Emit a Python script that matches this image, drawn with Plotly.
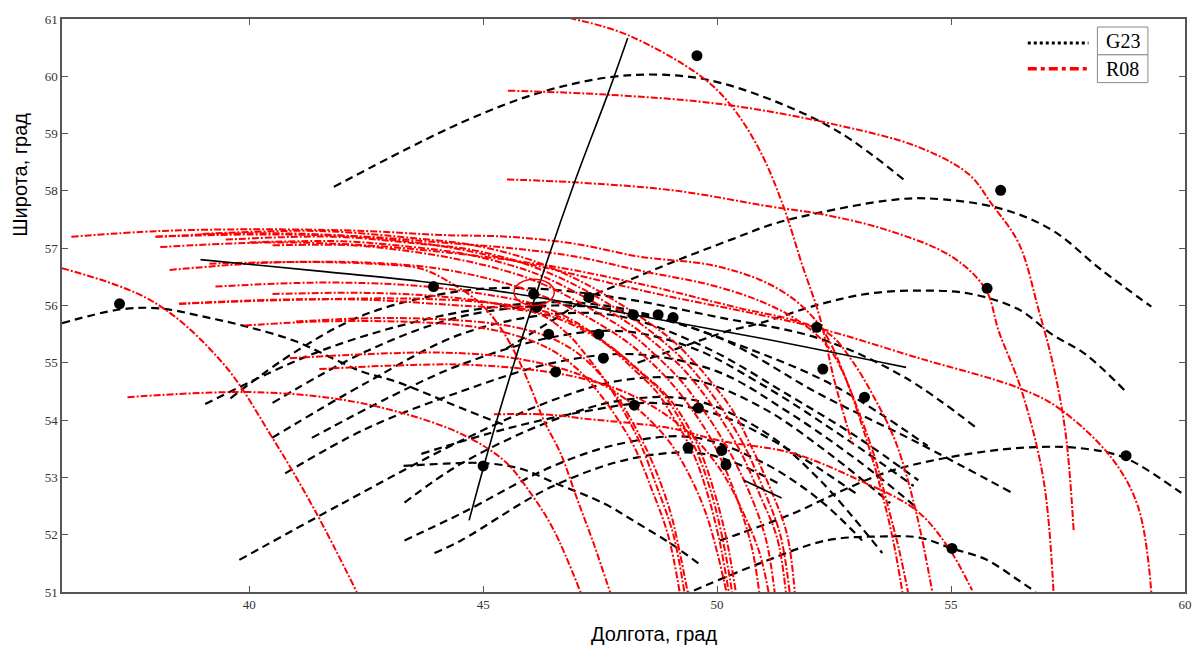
import plotly.graph_objects as go

# ---------------- G23 arcs (lon, lat) ----------------
g01 = [(41.81, 58.07), (44.53, 59.19), (46.23, 59.72), (47.66, 59.98), (48.72, 60.03), (49.79, 59.94), (51.19, 59.58), (52.62, 59.02), (54.06, 58.15)]
g02 = [(45.5, 55.25), (46.5, 55.75), (47.26, 56.14), (47.94, 56.38), (49.06, 56.76), (50.3, 57.15), (51.19, 57.42), (52.19, 57.62), (53.62, 57.83), (54.47, 57.87), (56.02, 57.70), (57.15, 57.32), (58.2, 56.63), (59.28, 55.98)]
g03 = [(48.3, 55.0), (49.5, 55.35), (50.21, 55.55), (50.91, 55.69), (52.19, 56.02), (53.26, 56.21), (54.32, 56.26), (55.38, 56.21), (56.45, 55.93), (57.15, 55.50), (57.87, 55.15), (58.72, 54.51)]
g04 = [(50.06, 51.9), (50.49, 52.02), (51.62, 52.37), (52.68, 52.77), (53.74, 53.12), (55.38, 53.41), (56.81, 53.53), (57.87, 53.50), (58.72, 53.34), (59.85, 52.77), (60.3, 52.5)]
g05 = [(49.0, 50.85), (49.43, 51.0), (50.91, 51.5), (52.34, 51.9), (53.6, 51.97), (54.32, 51.95), (55.02, 51.76), (55.74, 51.57), (56.45, 51.2), (56.81, 51.0)]
g06 = [(36.0, 55.69), (37.23, 55.93), (38.09, 55.95), (39.0, 55.81), (39.91, 55.64), (40.98, 55.38), (41.70, 55.11), (42.40, 54.85), (43.11, 54.68), (43.83, 54.45), (44.53, 54.21), (45.5, 53.9)]
g07 = [(43.3, 53.2), (44.2, 53.24), (45.0, 53.25), (45.81, 53.15), (46.51, 52.91), (47.57, 52.55), (48.3, 52.2), (49.0, 51.85), (49.6, 51.5)]
g08 = [(39.6, 54.38), (41.0, 55.2), (42.5, 55.85), (44.5, 56.25), (46.0, 56.3), (48.0, 56.12), (50.0, 55.8), (52.2, 55.42), (54.0, 54.75), (55.55, 53.86)]
g09 = [(40.5, 54.3), (42.5, 55.2), (44.5, 55.8), (46.5, 56.0), (48.0, 55.9), (50.0, 55.45), (52.2, 54.45), (54.3, 53.6), (56.28, 52.74)]
g10 = [(40.49, 53.69), (42.5, 54.65), (44.53, 55.5), (46.5, 55.85), (48.0, 55.8), (49.8, 55.25), (51.5, 54.45), (53.0, 53.7), (54.3, 52.95)]
g11 = [(41.34, 53.69), (43.0, 54.4), (44.53, 54.97), (46.5, 55.45), (48.0, 55.55), (49.5, 55.25), (51.0, 54.6), (52.8, 53.65), (54.2, 52.85)]
g12 = [(40.77, 53.07), (42.5, 53.85), (44.53, 54.5), (46.5, 55.0), (48.2, 55.15), (50.0, 54.85), (51.5, 54.15), (53.0, 53.3), (54.3, 52.45)]
g13 = [(39.79, 51.56), (42.0, 52.55), (44.53, 53.64), (46.5, 54.35), (48.0, 54.7), (49.5, 54.7), (51.0, 54.2), (52.5, 53.35), (53.7, 52.55)]
g14 = [(43.32, 52.56), (44.53, 53.24), (46.5, 54.0), (48.0, 54.35), (49.5, 54.35), (51.0, 53.8), (52.2, 52.95), (53.53, 51.68)]
g15 = [(43.32, 51.9), (44.53, 52.37), (46.5, 53.2), (48.0, 53.6), (49.5, 53.7), (51.0, 53.25), (52.2, 52.6), (53.1, 51.9)]
g16 = [(43.96, 51.68), (44.53, 51.9), (46.5, 52.85), (48.3, 53.35), (49.8, 53.4), (51.3, 52.9)]
g17 = [(43.68, 53.41), (45.5, 53.85), (47.23, 54.16), (48.6, 54.3), (50.0, 54.1), (51.5, 53.5), (53.0, 52.7)]
g18 = [(39.06, 54.28), (41.5, 55.2), (43.83, 55.77), (45.5, 56.0), (47.0, 56.05), (48.5, 55.85), (50.5, 55.3), (52.5, 54.6), (54.5, 53.55)]

# ---------------- R08 arcs (lon, lat) ----------------
r01 = [(36.0, 56.65), (37.94, 56.07), (39.43, 55.0), (40.49, 53.7), (41.40, 52.43), (42.30, 51.0)]
r02 = [(37.40, 54.40), (39.91, 54.49), (41.70, 54.39), (43.11, 54.16), (44.53, 53.76), (45.45, 53.29), (46.02, 52.72), (46.51, 52.08), (47.09, 50.98)]
r03 = [(46.3, 61.1), (46.94, 61.0), (48.09, 60.72), (49.64, 60.01), (50.28, 59.51), (50.91, 58.71), (51.40, 57.77), (51.83, 56.68), (52.19, 55.81), (52.51, 54.68), (52.89, 53.59)]
r04 = [(45.53, 59.75), (47.66, 59.68), (50.13, 59.51), (52.62, 59.14), (54.32, 58.76), (55.38, 58.29), (55.87, 57.77), (56.45, 57.08), (56.87, 55.93), (57.2, 54.9), (57.45, 53.76), (57.62, 52.08)]
r05 = [(45.51, 58.2), (46.94, 58.15), (49.06, 58.01), (51.19, 57.72), (52.19, 57.6), (53.62, 57.32), (55.02, 56.85), (55.74, 56.28), (56.02, 55.55), (56.51, 54.51), (56.98, 52.94), (57.19, 51.0)]
r06 = [(38.0, 57.2), (40.0, 57.26), (42.0, 57.22), (44.0, 57.05), (46.0, 56.72), (48.79, 56.19), (50.55, 55.9), (52.19, 55.6), (54.32, 55.08), (56.45, 54.56), (57.3, 54.21), (58.43, 53.34), (59.0, 52.48), (59.28, 51.0)]
r07 = [(45.23, 54.1), (46.30, 54.1), (47.23, 54.02), (49.0, 53.86), (50.06, 53.64), (51.62, 53.42), (53.04, 52.95), (54.25, 52.43), (54.94, 51.78), (55.45, 51.03)]
r08 = [(36.2, 57.2), (38.1, 57.3), (40.3, 57.33), (42.5, 57.3), (44.11, 57.23), (45.53, 57.2), (46.94, 57.08), (48.36, 56.85), (49.85, 56.71), (50.91, 56.45), (51.62, 56.12), (52.13, 55.72), (52.40, 55.38), (52.77, 54.68), (53.10, 53.9), (53.45, 52.95), (53.75, 51.95), (53.96, 51.0)]
r09 = [(38.0, 57.2), (40.3, 57.24), (42.5, 57.2), (44.1, 57.1), (45.6, 57.0), (47.0, 56.85), (48.4, 56.6), (49.9, 56.35), (51.0, 56.05), (51.8, 55.7), (52.35, 55.3), (52.65, 54.9), (53.0, 54.2), (53.35, 53.4), (53.65, 52.5), (53.9, 51.7), (54.08, 51.0)]
r10 = [(38.1, 57.02), (40.5, 57.1), (42.5, 57.05), (44.5, 56.9), (46.5, 56.68), (48.5, 56.35), (50.5, 55.95), (51.6, 55.75), (52.4, 55.5), (52.89, 55.03), (53.4, 54.33), (53.83, 53.59), (54.26, 52.37), (54.6, 51.0)]
r11 = [(39.0, 57.25), (41.5, 57.3), (43.7, 57.16), (44.74, 57.06), (45.81, 56.85), (46.51, 56.64), (47.23, 56.36), (47.94, 56.02), (48.51, 55.72), (49.06, 55.38), (49.49, 55.03), (49.91, 54.63), (50.34, 54.16), (50.70, 53.59), (51.13, 52.82), (51.49, 52.02), (51.66, 51.0)]
r12 = [(39.5, 57.15), (41.8, 57.2), (43.6, 57.08), (44.7, 56.98), (45.7, 56.78), (46.4, 56.57), (47.1, 56.3), (47.8, 55.97), (48.4, 55.66), (48.95, 55.3), (49.4, 54.95), (49.8, 54.55), (50.2, 54.08), (50.6, 53.52), (51.0, 52.78), (51.35, 52.0), (51.55, 51.0)]
r13 = [(40.0, 57.1), (42.0, 57.12), (43.5, 57.02), (44.6, 56.9), (45.6, 56.7), (46.3, 56.5), (47.0, 56.22), (47.7, 55.9), (48.3, 55.58), (48.85, 55.22), (49.3, 54.87), (49.7, 54.47), (50.1, 54.0), (50.5, 53.45), (50.9, 52.72), (51.28, 51.95), (51.47, 51.0)]
r14 = [(40.5, 57.05), (42.2, 57.05), (43.4, 56.95), (44.5, 56.8), (45.5, 56.6), (46.2, 56.4), (46.9, 56.12), (47.6, 55.8), (48.2, 55.48), (48.7, 55.12), (49.15, 54.76), (49.55, 54.35), (49.95, 53.88), (50.35, 53.32), (50.75, 52.62), (51.05, 51.9), (51.23, 51.0)]
r15 = [(38.3, 56.62), (40.5, 56.75), (42.5, 56.75), (44.0, 56.65), (45.2, 56.45), (46.0, 56.25), (46.8, 55.98), (47.5, 55.67), (48.1, 55.35), (48.6, 55.0), (49.05, 54.62), (49.45, 54.2), (49.85, 53.7), (50.2, 53.1), (50.5, 52.45), (50.75, 51.75), (50.9, 51.0)]
r16 = [(39.28, 56.33), (41.5, 56.4), (43.5, 56.35), (45.0, 56.2), (46.2, 56.0), (47.0, 55.7), (47.6, 55.35), (48.2, 54.9), (48.7, 54.5), (49.1, 54.0), (49.5, 53.4), (49.8, 52.7), (50.05, 51.9), (50.25, 51.0)]
r17 = [(38.5, 56.03), (41.0, 56.1), (43.5, 56.12), (45.1, 56.05), (46.3, 55.9), (47.1, 55.62), (47.7, 55.3), (48.3, 54.88), (48.8, 54.5), (49.2, 54.02), (49.58, 53.42), (49.88, 52.72), (50.12, 51.92), (50.32, 51.0)]
r18 = [(40.5, 56.2), (42.5, 56.22), (44.2, 56.15), (45.5, 56.0), (46.5, 55.8), (47.25, 55.52), (47.85, 55.2), (48.4, 54.82), (48.9, 54.45), (49.3, 54.0), (49.66, 53.42), (49.95, 52.72), (50.2, 51.93), (50.4, 51.0)]
r19 = [(40.87, 55.08), (42.5, 55.15), (44.0, 55.18), (45.3, 55.12), (46.3, 54.98), (47.2, 54.75), (47.9, 54.45), (48.5, 54.05), (49.0, 53.6), (49.4, 53.05), (49.75, 52.4), (50.0, 51.7), (50.2, 51.0)]
r20 = [(41.5, 54.89), (43.0, 54.95), (44.5, 54.97), (45.8, 54.9), (47.0, 54.75), (48.0, 54.5), (48.8, 54.15), (49.5, 53.7), (50.1, 53.1), (50.55, 52.4), (50.9, 51.7), (51.1, 51.0)]
r21 = [(38.5, 56.03), (40.5, 56.1), (42.5, 56.1), (44.5, 56.0), (45.5, 55.95), (46.23, 55.84), (46.81, 55.5), (47.3, 55.03), (47.66, 54.63), (48.0, 54.16), (48.36, 53.59), (48.72, 52.82), (49.06, 52.02), (49.3, 51.0)]
r22 = [(39.9, 55.65), (41.5, 55.72), (43.2, 55.72), (44.6, 55.65), (45.6, 55.5), (46.4, 55.25), (47.0, 54.9), (47.45, 54.5), (47.85, 54.05), (48.25, 53.5), (48.6, 52.8), (48.95, 52.0), (49.2, 51.0)]
r23 = [(41.0, 55.72), (42.7, 55.78), (44.3, 55.75), (45.5, 55.65), (46.4, 55.45), (47.05, 55.15), (47.55, 54.75), (47.95, 54.3), (48.3, 53.8), (48.65, 53.2), (49.0, 52.4), (49.2, 51.7), (49.37, 51.0)]
r24 = [(39.15, 56.73), (41.13, 56.76), (42.8, 56.72), (43.68, 56.64), (44.38, 56.36), (44.96, 56.02), (45.38, 55.6), (45.74, 55.08), (46.02, 54.56), (46.3, 53.99), (46.66, 53.41), (47.02, 52.6), (47.36, 51.85), (47.72, 50.98)]

# ---------------- epicentre-like markers ----------------
dots_lon = [37.23, 43.94, 45.0, 49.57, 56.06, 55.77, 58.74, 55.02, 46.08, 46.15, 47.26, 48.21, 48.74, 49.06,
            46.4, 47.47, 47.57, 46.55, 48.23, 49.6, 52.13, 52.26, 53.15, 49.38, 50.19, 50.1]
dots_lat = [56.03, 56.33, 53.2, 60.36, 58.01, 56.3, 53.38, 51.76, 56.2, 55.97, 56.14, 55.84, 55.84, 55.79,
            55.5, 55.5, 55.08, 54.84, 54.26, 54.21, 55.62, 54.89, 54.40, 53.52, 53.22, 53.47]

# solid profile lines
steep_line = [(44.70, 52.25), (45.32, 54.07), (46.13, 56.19), (46.94, 58.12), (47.66, 59.68), (48.09, 60.67)]
shallow_line = [(38.96, 56.80), (41.5, 56.6), (43.68, 56.42), (45.66, 56.21), (48.21, 55.84), (51.0, 55.42), (54.04, 54.92)]
short_line = [(50.57, 52.95), (51.38, 52.64)]

# red circle (ellipse in degrees)
circle_lon, circle_lat = 46.09, 56.23
circle_r_lon, circle_r_lat = 0.43, 0.23

x_range = [36, 60]
y_range = [51, 61]
x_ticks = [40, 45, 50, 55, 60]
y_ticks = [51, 52, 53, 54, 55, 56, 57, 58, 59, 60, 61]

legend_labels = ["G23", "R08"]
x_title = "Долгота, град"
y_title = "Широта, град"

G23_CURVES = [g01, g02, g03, g04, g05, g06, g07, g08, g09, g10, g11, g12, g13, g14, g15, g16, g17, g18]
R08_CURVES = [r01, r02, r03, r04, r05, r06, r07, r08, r09, r10, r11, r12, r13, r14, r15, r16, r17, r18,
              r19, r20, r21, r22, r23, r24]

fig = go.Figure()


def add_curve(pts, color, dash, width, shape="spline"):
    fig.add_trace(go.Scatter(
        x=[p[0] for p in pts], y=[p[1] for p in pts], mode="lines",
        line=dict(color=color, dash=dash, width=width, shape=shape, smoothing=1.0),
        showlegend=False, hoverinfo="skip"))


for c in G23_CURVES:
    add_curve(c, "black", "8px,5px", 2.2)
for c in R08_CURVES:
    add_curve(c, "#ff0000", "7px,2px,2px,2px", 2.0)

add_curve(steep_line, "black", "solid", 1.6)
add_curve(shallow_line, "black", "solid", 1.6)
add_curve(short_line, "black", "solid", 1.6, shape="linear")

fig.add_trace(go.Scatter(x=dots_lon, y=dots_lat, mode="markers",
                         marker=dict(color="black", size=11),
                         showlegend=False, hoverinfo="skip"))

fig.add_shape(type="circle", xref="x", yref="y",
              x0=circle_lon - circle_r_lon, x1=circle_lon + circle_r_lon,
              y0=circle_lat - circle_r_lat, y1=circle_lat + circle_r_lat,
              line=dict(color="#ff0000", width=1.5))

# manual legend
leg_x0, leg_x1 = 0.860, 0.914
box_x0, box_x1 = 0.922, 0.967
fig.add_shape(type="line", xref="paper", yref="paper", x0=leg_x0, x1=leg_x1, y0=0.958, y1=0.958,
              line=dict(color="black", width=3, dash="3px,3px"))
fig.add_shape(type="line", xref="paper", yref="paper", x0=leg_x0, x1=leg_x1, y0=0.913, y1=0.913,
              line=dict(color="#ff0000", width=3.5, dash="9px,4px,4px,4px"))
fig.add_shape(type="rect", xref="paper", yref="paper", x0=box_x0, x1=box_x1, y0=0.9375, y1=0.986,
              line=dict(color="#888", width=1), fillcolor="white")
fig.add_shape(type="rect", xref="paper", yref="paper", x0=box_x0, x1=box_x1, y0=0.889, y1=0.9375,
              line=dict(color="#888", width=1), fillcolor="white")
for lbl, yy in zip(legend_labels, [0.962, 0.913]):
    fig.add_annotation(text=lbl, xref="paper", yref="paper", x=(box_x0 + box_x1) / 2, y=yy,
                       showarrow=False, font=dict(family="Liberation Serif", size=20, color="black"),
                       xanchor="center", yanchor="middle")

fig.add_annotation(text=x_title, xref="paper", yref="paper", x=0.527, y=-0.073, showarrow=False,
                   font=dict(family="Liberation Sans", size=20, color="black"),
                   xanchor="center", yanchor="middle")
fig.add_annotation(text=y_title, xref="paper", yref="paper", x=-0.037, y=0.729, showarrow=False,
                   textangle=-90, font=dict(family="Liberation Sans", size=20, color="black"),
                   xanchor="center", yanchor="middle")

axis_common = dict(showgrid=False, zeroline=False, showline=True, linecolor="#555", linewidth=1.5,
                   mirror="ticks", ticks="inside", ticklen=6, tickcolor="#555", tickwidth=1.2,
                   tickfont=dict(family="Liberation Serif", size=13, color="#333"))

fig.update_xaxes(range=x_range, tickvals=x_ticks, **axis_common)
fig.update_yaxes(range=y_range, tickvals=y_ticks, **axis_common)

fig.update_layout(width=1204, height=646, margin=dict(l=62, r=17, t=16, b=54),
                  plot_bgcolor="white", paper_bgcolor="white", showlegend=False)

fig.write_html("out.html", config={"displayModeBar": False},
               post_script="document.body.style.margin='0';document.body.style.overflow='hidden';")
